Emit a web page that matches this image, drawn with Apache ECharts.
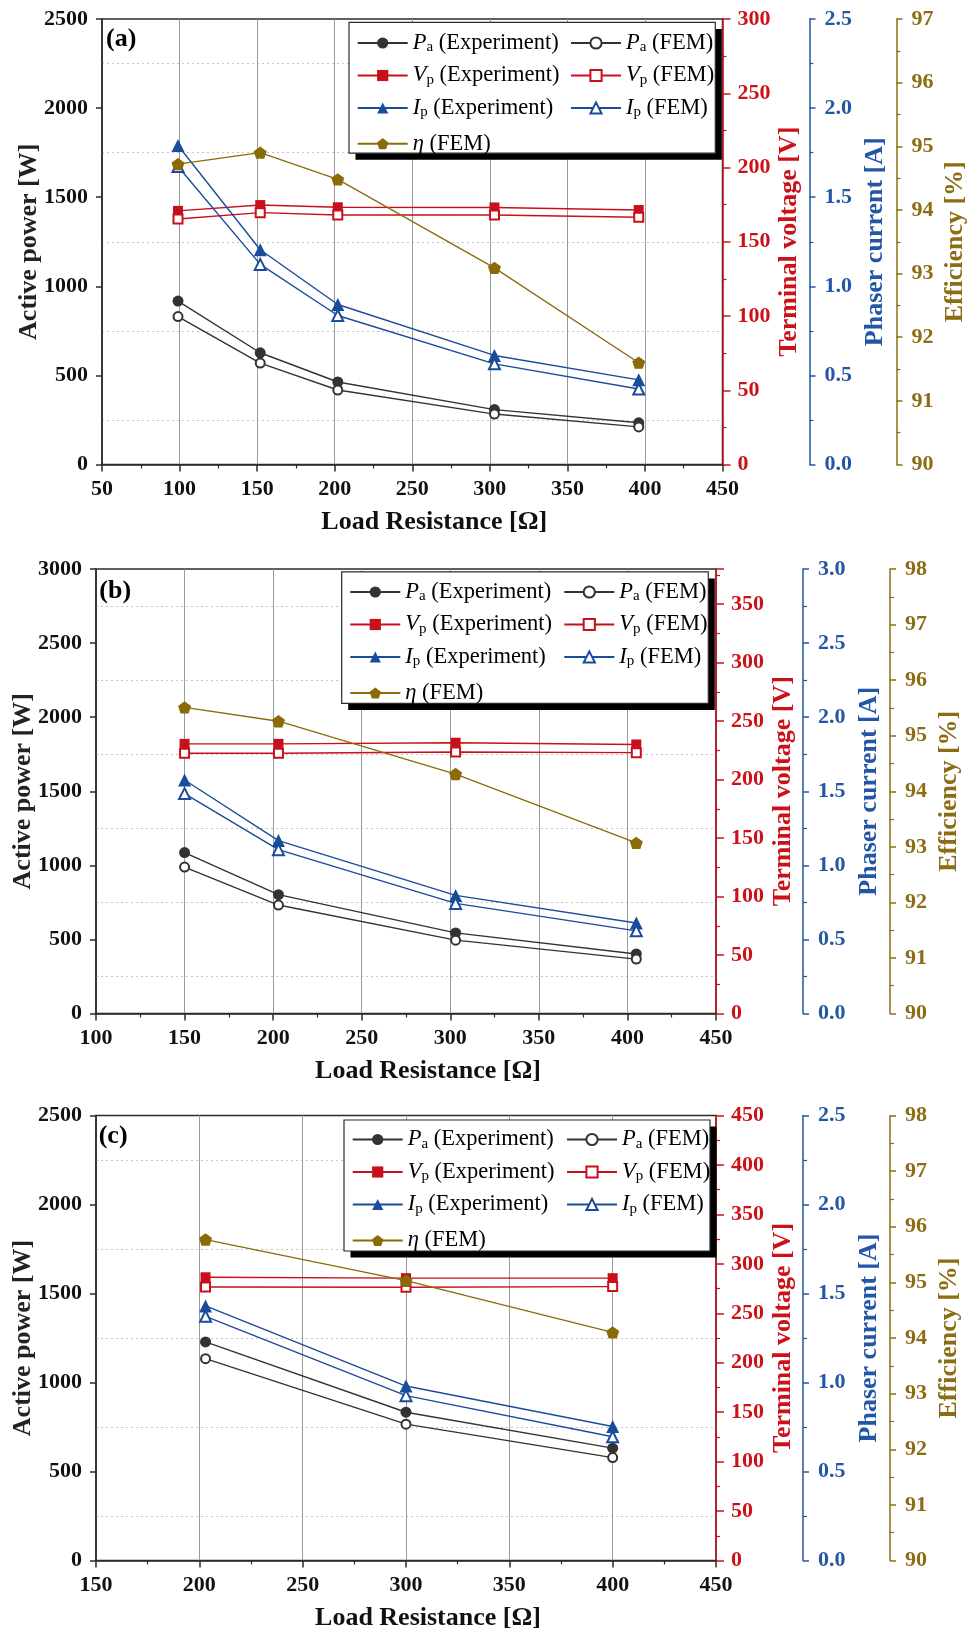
<!DOCTYPE html>
<html>
<head>
<meta charset="utf-8">
<script src="https://cdn.jsdelivr.net/npm/echarts@6/dist/echarts.min.js"></script>
<style>
  html, body { margin: 0; padding: 0; background: #fff; }
  #chart { width: 971px; height: 1632px; }
</style>
</head>
<body>
<div id="chart"></div>
<script>
const FONT = '"Liberation Serif", "Times New Roman", serif';

// ---- Panel (a) ----
const loadA   = [99, 152, 202, 303, 396];            // load resistance [Ω]
const paExpA  = [917, 627, 463, 308, 234];           // active power, experiment [W]
const paFemA  = [830, 569, 418, 283, 211];           // active power, FEM [W]
const vpExpA  = [170.8, 174.7, 173.2, 173.1, 171.4]; // terminal voltage, experiment [V]
const vpFemA  = [165.3, 169.6, 168.0, 168.0, 166.5]; // terminal voltage, FEM [V]
const ipExpA  = [1.790, 1.205, 0.898, 0.612, 0.475]; // phase current, experiment [A]
const ipFemA  = [1.672, 1.123, 0.836, 0.565, 0.424]; // phase current, FEM [A]
const etaA    = [94.72, 94.90, 94.48, 93.09, 91.60]; // efficiency, FEM [%]

// ---- Panel (b) ----
const loadB   = [150, 203, 303, 405];
const paExpB  = [1086, 802, 544, 402];
const paFemB  = [988, 732, 495, 367];
const vpExpB  = [230.5, 230.5, 231.5, 230.0];
const vpFemB  = [222.5, 222.5, 223.5, 223.0];
const ipExpB  = [1.576, 1.167, 0.797, 0.611];
const ipFemB  = [1.484, 1.106, 0.743, 0.558];
const etaB    = [95.51, 95.26, 94.31, 93.07];

// ---- Panel (c) ----
const loadC   = [203, 300, 400];
const paExpC  = [1228, 833, 631];
const paFemC  = [1134, 766, 578];
const vpExpC  = [286.4, 285.5, 285.5];
const vpFemC  = [276.5, 276.3, 277.0];
const ipExpC  = [1.430, 0.980, 0.753];
const ipFemC  = [1.372, 0.926, 0.695];
const etaC    = [95.77, 95.03, 94.10];

// Axis ranges per panel
const panelTags  = ['(a)', '(b)', '(c)'];
const loadMin    = [50, 100, 150];
const loadMax    = [450, 450, 450];
const powerMax   = [2500, 3000, 2500];
const voltMax    = [300, 380, 450];
const currentMax = [2.5, 3.0, 2.5];
const effMin     = [90, 90, 90];
const effMax     = [97, 98, 98];

// Series names and their legend captions
const seriesNames = ['Pa (Experiment)', 'Pa (FEM)', 'Vp (Experiment)', 'Vp (FEM)',
                     'Ip (Experiment)', 'Ip (FEM)', 'η (FEM)'];
const legendCaptions = {
  'Pa (Experiment)': '{it|P}{sub|a}{n| (Experiment)}',
  'Pa (FEM)':        '{it|P}{sub|a}{n| (FEM)}',
  'Vp (Experiment)': '{it|V}{sub|p}{n| (Experiment)}',
  'Vp (FEM)':        '{it|V}{sub|p}{n| (FEM)}',
  'Ip (Experiment)': '{it|I}{sub|p}{n| (Experiment)}',
  'Ip (FEM)':        '{it|I}{sub|p}{n| (FEM)}',
  'η (FEM)':         '{it|η}{n| (FEM)}'
};
const axisTitles = ['Load Resistance [Ω]', 'Active power [W]', 'Terminal voltage [V]',
                    'Phaser current [A]', 'Efficiency [%]'];

const panels = [
  { load: loadA, pa: [paExpA, paFemA], vp: [vpExpA, vpFemA], ip: [ipExpA, ipFemA], eta: etaA },
  { load: loadB, pa: [paExpB, paFemB], vp: [vpExpB, vpFemB], ip: [ipExpB, ipFemB], eta: etaB },
  { load: loadC, pa: [paExpC, paFemC], vp: [vpExpC, vpFemC], ip: [ipExpC, ipFemC], eta: etaC }
];

// ---- Layout ----
const grids = [
  { left: 102, top: 19,     width: 620.5, height: 445.5 },
  { left: 96,  top: 569,    width: 620,   height: 444.5 },
  { left: 96,  top: 1115.5, width: 620,   height: 445 }
];
const xNameGap    = [45, 45, 45];
const legendBoxes = [[349, 22.4, 366.3, 130.8], [341.7, 571.9, 366.6, 131.5], [344, 1120, 366, 131]];
const legendCols  = [[356.7, 570], [349.3, 563.3], [351.7, 566]];
const legendTop   = [31.5, 580.5, 1128];
const etaTop      = [132.2, 681.5, 1229];
const tagPos      = [[106, 39.6], [99.3, 591.5], [98.7, 1136.7]];

// ---- Colours ----
const C_DARK = '#333333', C_RED = '#c8101a', C_BLUE = '#1a4c9c', C_GOLD = '#8b6a08';
const AX_DARK = '#2b2b2b', AX_RED = '#cc1118', AX_BLUE = '#2356a6', AX_GOLD = '#8c6d14';
const PENTAGON = 'path://M0,-1L0.951,-0.309L0.588,0.809L-0.588,0.809L-0.951,-0.309Z';

const labelStyle = (color) => ({ color, fontFamily: FONT, fontWeight: 'bold', fontSize: 22 });
const nameStyle  = (color) => ({ color, fontFamily: FONT, fontWeight: 'bold', fontSize: 26, lineHeight: 26 });

function valueAxis(gridIndex, cfg) {
  return Object.assign({
    type: 'value', gridIndex,
    nameLocation: 'middle', nameMoveOverlap: false,
    axisLine: { show: true, onZero: false, lineStyle: { color: cfg.color, width: 1.5 } },
    axisTick: { show: true, inside: false, length: cfg.tickLen || 7, lineStyle: { color: cfg.color, width: 1.5 } },
    splitLine: { show: false }
  }, cfg.extra);
}

const option = {
  animation: false,
  backgroundColor: '#ffffff',
  textStyle: { fontFamily: FONT },
  grid: [], xAxis: [], yAxis: [], series: [], legend: [], graphic: []
};

const richText = {
  it:  { fontFamily: FONT, fontStyle: 'italic', fontSize: 22.5, lineHeight: 24, color: '#000' },
  sub: { fontFamily: FONT, fontSize: 15, lineHeight: 12, verticalAlign: 'bottom', color: '#000' },
  n:   { fontFamily: FONT, fontSize: 22.5, lineHeight: 24, color: '#000' }
};

function lineSeries(name, xi, yi, xs, ys, color, symbol, size, empty, width) {
  return {
    type: 'line', name, xAxisIndex: xi, yAxisIndex: yi,
    data: xs.map((x, k) => [x, ys[k]]),
    symbol, symbolSize: size, symbolKeepAspect: true,
    showAllSymbol: true,
    lineStyle: { color, width: width || 1.4 },
    itemStyle: empty ? { color, borderColor: color, borderWidth: 2 } : { color, borderWidth: 0 },
    emphasis: { disabled: true },
    z: 2
  };
}

panels.forEach((p, i) => {
  option.grid.push(Object.assign({
    show: true, borderColor: AX_DARK, borderWidth: 1.5,
    containLabel: false, outerBoundsMode: 'none'
  }, grids[i]));

  option.xAxis.push({
    type: 'value', gridIndex: i, min: loadMin[i], max: loadMax[i], interval: 50,
    name: axisTitles[0], nameLocation: 'middle', nameGap: xNameGap[i], nameMoveOverlap: false,
    nameTextStyle: Object.assign(nameStyle('#111'), { padding: [0, 0, 0, 44] }),
    axisLine: { show: true, onZero: false, lineStyle: { color: AX_DARK, width: 1.5 } },
    axisTick: { show: true, inside: false, length: 7, lineStyle: { color: AX_DARK, width: 1.5 } },
    minorTick: { show: true, splitNumber: 2, length: 4, lineStyle: { color: AX_DARK, width: 1.2 } },
    axisLabel: Object.assign(labelStyle('#111'), { margin: 14 }),
    splitLine: { show: true, showMinLine: false, showMaxLine: false, lineStyle: { color: '#9a9a9a', width: 1 } }
  });

  const base = i * 4;
  // Active power (left)
  option.yAxis.push(valueAxis(i, { color: AX_DARK, tickLen: 6, extra: {
    position: 'left', min: 0, max: powerMax[i], interval: 500,
    name: axisTitles[1], nameGap: 60, nameTextStyle: nameStyle('#222'),
    axisLabel: Object.assign(labelStyle('#111'), { margin: 14, formatter: (v) => String(v) }),
    minorTick: { show: false, splitNumber: 2 },
    minorSplitLine: { show: true, lineStyle: { color: '#c4c4c4', width: 1, type: [2, 3] } }
  }}));
  // Terminal voltage (right, red)
  option.yAxis.push(valueAxis(i, { color: AX_RED, tickLen: 8, extra: {
    position: 'right', offset: 0, min: 0, max: voltMax[i], interval: 50,
    name: axisTitles[2], nameGap: 54, nameTextStyle: nameStyle(AX_RED),
    axisLabel: Object.assign(labelStyle(AX_RED), { margin: 15,
      formatter: (v) => (v % 50 === 0 ? String(v) : '') }),
    minorTick: { show: true, splitNumber: 2, length: 4, lineStyle: { color: AX_RED, width: 1.2 } }
  }}));
  // Phase current (right, blue)
  option.yAxis.push(valueAxis(i, { color: AX_BLUE, tickLen: 6, extra: {
    position: 'right', offset: 87, min: 0, max: currentMax[i], interval: 0.5,
    name: axisTitles[3], nameGap: 53, nameTextStyle: nameStyle(AX_BLUE),
    axisLabel: Object.assign(labelStyle(AX_BLUE), { margin: 15, formatter: (v) => v.toFixed(1) }),
    minorTick: { show: true, splitNumber: 2, length: 4, lineStyle: { color: AX_BLUE, width: 1.2 } }
  }}));
  // Efficiency (right, gold)
  option.yAxis.push(valueAxis(i, { color: AX_GOLD, tickLen: 6, extra: {
    position: 'right', offset: 174, min: effMin[i], max: effMax[i], interval: 1,
    name: axisTitles[4], nameGap: 46, nameTextStyle: nameStyle(AX_GOLD),
    axisLabel: Object.assign(labelStyle(AX_GOLD), { margin: 15 }),
    minorTick: { show: true, splitNumber: 2, length: 4, lineStyle: { color: AX_GOLD, width: 1.2 } }
  }}));

  const x = p.load;
  option.series.push(
    lineSeries(seriesNames[0], i, base,     x, p.pa[0], C_DARK, 'circle', 11, false),
    lineSeries(seriesNames[1], i, base,     x, p.pa[1], C_DARK, 'emptyCircle', 9, true),
    lineSeries(seriesNames[2], i, base + 1, x, p.vp[0], C_RED,  'rect', 10, false),
    lineSeries(seriesNames[3], i, base + 1, x, p.vp[1], C_RED,  'emptyRect', 9, true),
    lineSeries(seriesNames[4], i, base + 2, x, p.ip[0], C_BLUE, 'triangle', 13, false),
    lineSeries(seriesNames[5], i, base + 2, x, p.ip[1], C_BLUE, 'emptyTriangle', 11, true),
    lineSeries(seriesNames[6], i, base + 3, x, p.eta,   C_GOLD, PENTAGON, 13, false, 1.3)
  );

  const legendCommon = {
    orient: 'vertical', top: legendTop[i], itemWidth: 50, itemHeight: 14, itemGap: 9,
    padding: 0, selectedMode: false, z: 6,
    formatter: (name) => legendCaptions[name],
    textStyle: { fontFamily: FONT, fontSize: 22.5, color: '#000', rich: richText }
  };
  option.legend.push(Object.assign({}, legendCommon, {
    left: legendCols[i][0], data: [seriesNames[0], seriesNames[2], seriesNames[4]]
  }));
  option.legend.push(Object.assign({}, legendCommon, {
    left: legendCols[i][1], data: [seriesNames[1], seriesNames[3], seriesNames[5]]
  }));
  option.legend.push(Object.assign({}, legendCommon, {
    left: legendCols[i][0], top: etaTop[i], data: [seriesNames[6]]
  }));

  const b = legendBoxes[i];
  option.graphic.push(
    { type: 'rect', z: 4, shape: { x: b[0] + 6.5, y: b[1] + 6.5, width: b[2], height: b[3] },
      style: { fill: '#000' }, silent: true },
    { type: 'rect', z: 5, shape: { x: b[0], y: b[1], width: b[2], height: b[3] },
      style: { fill: '#fff', stroke: '#2b2b2b', lineWidth: 1.2 }, silent: true },
    { type: 'text', z: 5, x: tagPos[i][0], y: tagPos[i][1], silent: true,
      style: { text: panelTags[i], font: 'bold 26px ' + FONT, fill: '#000', verticalAlign: 'middle' } }
  );
});

const chart = echarts.init(document.getElementById('chart'), null, { renderer: 'canvas' });
chart.setOption(option);
</script>
</body>
</html>
